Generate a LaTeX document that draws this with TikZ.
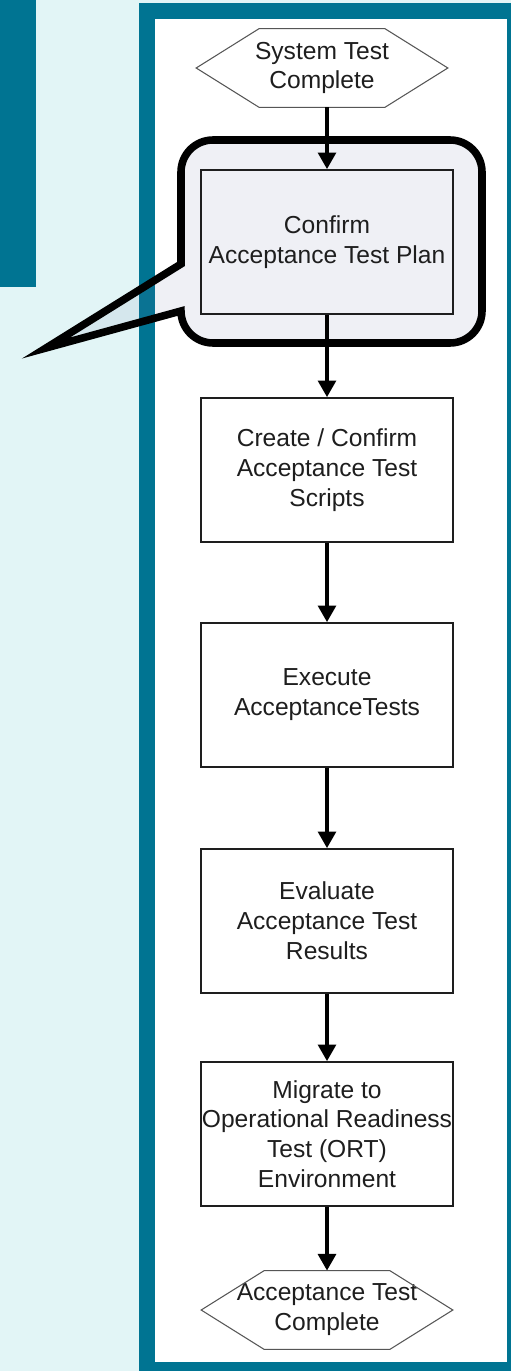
\documentclass[tikz,border=0pt]{standalone}
\usepackage{fontspec}
\setmainfont{Liberation Sans}
\usetikzlibrary{arrows.meta, calc, positioning}

\definecolor{deepteal}{RGB}{0,116,146}
\definecolor{paleteal}{RGB}{226,245,246}
\definecolor{callfill}{RGB}{100,110,160}
\definecolor{ink}{RGB}{30,30,30}

\tikzset{
	stepbox/.style={draw=ink, line width=0.9pt, minimum width=5.04cm, minimum height=2.88cm,
		inner sep=0pt, align=center, text=ink, font=\fontsize{14}{17}\selectfont},
	term/.style={minimum width=5.02cm, minimum height=1.56cm, inner sep=0pt,
		align=center, text=ink, font=\fontsize{14}{17}\selectfont},
	hexline/.style={draw=ink!75, line width=0.6pt},
	flow/.style={line width=2.6pt, -{Triangle[length=9.5pt, width=10pt]}},
	callout/.style={draw=black, line width=4.3pt, fill=callfill, fill opacity=0.1, draw opacity=1},
}

\begin{document}
\begin{tikzpicture}[x=0.02cm, y=-0.02cm]
		
		%// page and frame
		\useasboundingbox (0,0) rectangle (511,1371);
		\fill[paleteal] (0,0) rectangle (511,1371);
		\fill[deepteal] (0,0) rectangle (36,287);
		\fill[deepteal] (139,3) rectangle (511,1371);
		\fill[white] (155,19) rectangle (507,1362);
		
		%// highlight bubble round the first step
		\draw[callout] (181,264) -- (181,172) arc[start angle=180, end angle=270, radius=32]
			-- (450,140) arc[start angle=270, end angle=360, radius=32]
			-- (482,311) arc[start angle=0, end angle=90, radius=32]
			-- (213,343) arc[start angle=90, end angle=180, radius=32]
			-- (46,348) -- cycle;
		
		%// start and end terminators
		\node[term] (st) at (322,68) {System Test\\Complete};
		\node[term] (done) at (327,1310) {Acceptance Test\\Complete};
		
		\foreach \n in {st, done}
		\draw[hexline] (\n.west) -- ($(\n.north west)!0.25!(\n.north east)$)
			-- ($(\n.north west)!0.75!(\n.north east)$) -- (\n.east)
			-- ($(\n.south west)!0.75!(\n.south east)$)
			-- ($(\n.south west)!0.25!(\n.south east)$) -- cycle;
		
		%// process steps
		\foreach \n/\y/\t in {plan/242/{Confirm\\Acceptance Test Plan},
				scripts/470/{Create / Confirm\\Acceptance Test\\Scripts},
				exec/695/{Execute\\AcceptanceTests},
				eval/921/{Evaluate\\Acceptance Test\\Results},
				ort/1134/{Migrate to\\Operational Readiness\\Test (ORT)\\Environment}}
		\node[stepbox] (\n) at (327,\y) {\t};
		
		\foreach \a/\b in {st/plan, plan/scripts, scripts/exec, exec/eval, eval/ort, ort/done}
		\draw[flow] (\a.south -| \b.north) -- (\b.north);
		
		\end{tikzpicture}
\end{document}
